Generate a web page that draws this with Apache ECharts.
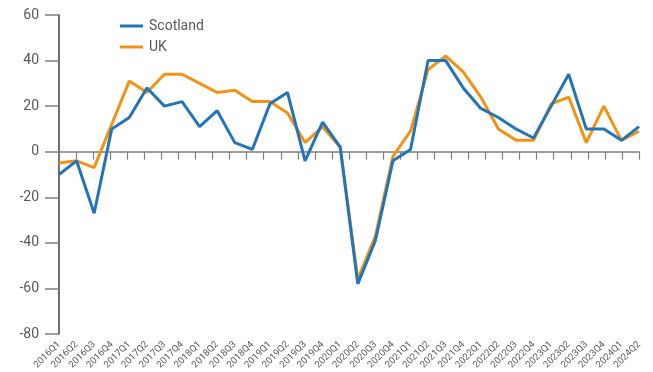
<!DOCTYPE html>
<html>
<head>
<meta charset="utf-8">
<script src="https://cdn.jsdelivr.net/npm/echarts@6/dist/echarts.min.js"></script>
<style>
  html, body { margin: 0; padding: 0; background: #ffffff; }
  #chart { width: 653px; height: 372px; }
</style>
</head>
<body>
<div id="chart"></div>
<script>
// Quarterly balance figures, Scotland vs UK
const quarters = [
  '2016Q1','2016Q2','2016Q3','2016Q4',
  '2017Q1','2017Q2','2017Q3','2017Q4',
  '2018Q1','2018Q2','2018Q3','2018Q4',
  '2019Q1','2019Q2','2019Q3','2019Q4',
  '2020Q1','2020Q2','2020Q3','2020Q4',
  '2021Q1','2021Q2','2021Q3','2021Q4',
  '2022Q1','2022Q2','2022Q3','2022Q4',
  '2023Q1','2023Q2','2023Q3','2023Q4',
  '2024Q1','2024Q2'
];
const scotland = [-10, -4, -27, 10, 15, 28, 20, 22, 11, 18, 4, 1, 21, 26, -4, 13,
  2, -58, -39, -4, 1, 40, 40, 28, 19, 15, 10, 6, 20, 34, 10, 10, 5, 11];
const uk = [-5, -4, -7, 12, 31, 26, 34, 34, 30, 26, 27, 22, 22, 17, 4, 11,
  2, -56, -37, -2, 9, 36, 42, 35, 24, 10, 5, 5, 21, 24, 4, 20, 5, 9];
// Tick marks along the zero line (one more than the categories)
const zeroLineTicks = new Array(quarters.length + 1).fill('');
const yMin = -80, yMax = 60, yStep = 20;

const textGrey = '#595959';
const font = 'Roboto, "Liberation Sans", sans-serif';

const chart = echarts.init(document.getElementById('chart'), null, { renderer: 'canvas' });
chart.setOption({
  animation: false,
  backgroundColor: '#ffffff',
  grid: { left: 59, right: 14, top: 15, bottom: 38, containLabel: false, outerBoundsMode: 'none' },
  legend: {
    orient: 'vertical',
    left: 115,
    top: 14,
    icon: 'rect',
    itemWidth: 23,
    itemHeight: 3,
    itemGap: 7,
    textStyle: { color: textGrey, fontSize: 14, lineHeight: 14, fontFamily: font, padding: [0, 0, 0, 1] },
    data: ['Scotland', 'UK']
  },
  xAxis: [
    {
      type: 'category',
      data: quarters,
      boundaryGap: false,
      position: 'bottom',
      axisLine: { show: false, onZero: false },
      axisTick: { show: false },
      axisLabel: {
        interval: 0,
        rotate: 45,
        margin: 9,
        color: textGrey,
        fontSize: 9.5,
        fontFamily: font
      },
      splitLine: { show: false }
    },
    {
      type: 'category',
      data: zeroLineTicks,
      boundaryGap: false,
      position: 'bottom',
      axisLine: { show: true, onZero: true, lineStyle: { color: '#7f7f7f', width: 1.5 } },
      axisTick: { show: true, inside: false, length: 8, interval: 0, lineStyle: { color: '#7f7f7f', width: 1.2 } },
      axisLabel: { show: false },
      splitLine: { show: false }
    }
  ],
  yAxis: {
    type: 'value',
    min: yMin,
    max: yMax,
    interval: yStep,
    axisLine: { show: true, lineStyle: { color: '#404040', width: 1.5 } },
    axisTick: { show: true, length: 14, lineStyle: { color: '#7f7f7f', width: 1.5 } },
    axisLabel: { margin: 20, color: textGrey, fontSize: 14, fontFamily: font },
    splitLine: { show: false }
  },
  series: [
    {
      name: 'Scotland',
      type: 'line',
      xAxisIndex: 0,
      data: scotland,
      symbol: 'none',
      color: '#2374B8',
      lineStyle: { width: 3, color: '#2374B8' },
      z: 3
    },
    {
      name: 'UK',
      type: 'line',
      xAxisIndex: 0,
      data: uk,
      symbol: 'none',
      color: '#F39314',
      lineStyle: { width: 3, color: '#F39314' },
      z: 2
    }
  ]
});
</script>
</body>
</html>
